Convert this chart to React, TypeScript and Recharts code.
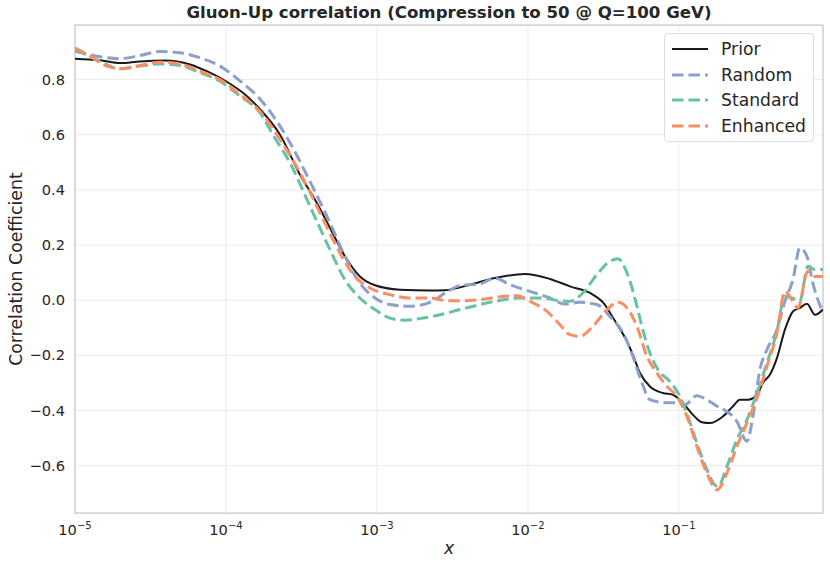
import React from 'react';
import {
  LineChart, Line, XAxis, YAxis, CartesianGrid, Legend, ReferenceArea,
} from 'recharts';

// each point: [log10(x), correlation]
const PRIOR: [number, number][] = [
  [-5.0, 0.876], [-4.834, 0.87], [-4.702, 0.86], [-4.57, 0.866], [-4.404, 0.869], [-4.238, 0.855],
  [-4.106, 0.825], [-4.0, 0.794], [-3.874, 0.746], [-3.775, 0.693], [-3.642, 0.6], [-3.51, 0.455],
  [-3.411, 0.365], [-3.311, 0.262], [-3.212, 0.159], [-3.113, 0.086], [-3.013, 0.054], [-2.848, 0.038],
  [-2.649, 0.035], [-2.55, 0.036], [-2.384, 0.056], [-2.219, 0.08], [-2.02, 0.095], [-1.854, 0.077],
  [-1.722, 0.05], [-1.589, 0.026], [-1.503, -0.008], [-1.424, -0.075], [-1.344, -0.15], [-1.305, -0.198],
  [-1.258, -0.264], [-1.192, -0.313], [-1.106, -0.337], [-1.04, -0.343], [-0.974, -0.373], [-0.907, -0.416],
  [-0.848, -0.443], [-0.795, -0.446], [-0.709, -0.422], [-0.642, -0.385], [-0.596, -0.361], [-0.543, -0.361],
  [-0.483, -0.343], [-0.444, -0.3], [-0.397, -0.27], [-0.351, -0.21], [-0.298, -0.107], [-0.245, -0.041],
  [-0.199, -0.028], [-0.152, -0.013], [-0.099, -0.053], [-0.046, -0.034],
];

const RANDOM: [number, number][] = [
  [-5.0, 0.903], [-4.834, 0.883], [-4.702, 0.876], [-4.57, 0.887], [-4.437, 0.902], [-4.305, 0.897],
  [-4.172, 0.879], [-4.04, 0.849], [-3.907, 0.795], [-3.775, 0.73], [-3.709, 0.685], [-3.576, 0.571],
  [-3.444, 0.431], [-3.311, 0.28], [-3.212, 0.159], [-3.113, 0.062], [-3.013, 0.008], [-2.914, -0.016],
  [-2.781, -0.022], [-2.649, -0.008], [-2.536, 0.03], [-2.45, 0.053], [-2.318, 0.059], [-2.219, 0.08],
  [-2.119, 0.056], [-1.987, 0.032], [-1.854, 0.008], [-1.755, -0.014], [-1.656, -0.008], [-1.543, -0.016],
  [-1.457, -0.059], [-1.358, -0.131], [-1.305, -0.204], [-1.245, -0.3], [-1.192, -0.361], [-1.106, -0.371],
  [-1.013, -0.373], [-0.96, -0.379], [-0.881, -0.347], [-0.815, -0.361], [-0.748, -0.385], [-0.682, -0.404],
  [-0.616, -0.44], [-0.55, -0.512], [-0.51, -0.422], [-0.464, -0.252], [-0.417, -0.18], [-0.351, -0.107],
  [-0.298, -0.004], [-0.245, 0.074], [-0.199, 0.189], [-0.152, 0.159], [-0.113, 0.062], [-0.046, -0.045],
];

const STANDARD: [number, number][] = [
  [-5.0, 0.91], [-4.834, 0.867], [-4.702, 0.839], [-4.57, 0.849], [-4.437, 0.857], [-4.305, 0.851],
  [-4.172, 0.825], [-4.04, 0.794], [-3.907, 0.74], [-3.775, 0.68], [-3.689, 0.6], [-3.576, 0.498],
  [-3.444, 0.341], [-3.311, 0.183], [-3.212, 0.074], [-3.113, 0.008], [-3.013, -0.034], [-2.914, -0.065],
  [-2.815, -0.073], [-2.695, -0.065], [-2.583, -0.053], [-2.45, -0.034], [-2.318, -0.016], [-2.185, -0.001],
  [-2.053, 0.008], [-1.921, 0.008], [-1.788, -0.002], [-1.722, -0.004], [-1.636, 0.026], [-1.543, 0.093],
  [-1.457, 0.141], [-1.404, 0.15], [-1.344, 0.099], [-1.278, -0.022], [-1.245, -0.095], [-1.192, -0.192],
  [-1.139, -0.252], [-1.06, -0.295], [-0.993, -0.349], [-0.94, -0.422], [-0.881, -0.518], [-0.815, -0.615],
  [-0.762, -0.67], [-0.742, -0.676], [-0.682, -0.603], [-0.616, -0.506], [-0.55, -0.434], [-0.483, -0.337],
  [-0.417, -0.228], [-0.351, -0.113], [-0.298, 0.014], [-0.252, 0.008], [-0.199, -0.004], [-0.146, 0.123],
  [-0.099, 0.111], [-0.046, 0.111],
];

const ENHANCED: [number, number][] = [
  [-5.0, 0.915], [-4.901, 0.885], [-4.815, 0.855], [-4.702, 0.839], [-4.57, 0.851], [-4.437, 0.863],
  [-4.305, 0.857], [-4.172, 0.83], [-4.04, 0.8], [-3.907, 0.746], [-3.775, 0.685], [-3.642, 0.583],
  [-3.51, 0.462], [-3.377, 0.317], [-3.245, 0.171], [-3.146, 0.086], [-3.046, 0.044], [-2.914, 0.02],
  [-2.781, 0.008], [-2.649, 0.008], [-2.536, -0.002], [-2.45, -0.002], [-2.318, 0.002], [-2.185, 0.012],
  [-2.073, 0.016], [-1.987, -0.004], [-1.874, -0.041], [-1.788, -0.089], [-1.722, -0.125], [-1.656, -0.131],
  [-1.57, -0.095], [-1.477, -0.035], [-1.404, -0.008], [-1.344, -0.028], [-1.278, -0.095], [-1.212, -0.204],
  [-1.146, -0.264], [-1.079, -0.313], [-1.013, -0.349], [-0.947, -0.422], [-0.881, -0.531], [-0.815, -0.627],
  [-0.748, -0.688], [-0.682, -0.627], [-0.616, -0.531], [-0.55, -0.446], [-0.483, -0.355], [-0.417, -0.24],
  [-0.351, -0.119], [-0.298, 0.032], [-0.252, 0.002], [-0.212, -0.028], [-0.146, 0.105], [-0.099, 0.086],
  [-0.046, 0.086],
];

const X_TICKS = [1e-5, 1e-4, 1e-3, 1e-2, 1e-1];
const Y_TICKS = [-0.6, -0.4, -0.2, 0, 0.2, 0.4, 0.6, 0.8];
const X_DOMAIN: [number, number] = [1e-5, 0.9];
const Y_DOMAIN: [number, number] = [-0.772, 0.998];

const FONT = "'DejaVu Sans', sans-serif";
const INK = '#262626';

const SERIES = [
  { name: 'Prior', points: PRIOR, color: '#1a1a1a', width: 2, dash: undefined },
  { name: 'Random', points: RANDOM, color: '#8da0cb', width: 3, dash: '11.5 5' },
  { name: 'Standard', points: STANDARD, color: '#66c2a5', width: 3, dash: '11.5 5' },
  { name: 'Enhanced', points: ENHANCED, color: '#fc8d62', width: 3, dash: '11.5 5' },
];

const toRows = (pts: [number, number][]) => pts.map(([e, r]) => ({ x: Math.pow(10, e), r }));

const XTick = ({ x, y, payload }: any) => {
  const exp = Math.round(Math.log10(payload.value));
  return (
    <text x={x} y={y + 14} textAnchor="middle" fill={INK} fontSize={14.6} fontFamily={FONT}>
      <tspan>10</tspan>
      <tspan dy={-6} fontSize={10}>{'\u2212' + Math.abs(exp)}</tspan>
    </text>
  );
};

const fmtY = (v: number) => v.toFixed(1).replace('-', '\u2212');

const LegendBox = () => (
  <div
    style={{
      width: 150, height: 109, boxSizing: 'border-box', border: '1px solid #dedede', borderRadius: 4,
      background: 'rgba(255,255,255,0.85)', position: 'relative', fontFamily: FONT, fontSize: 17.2, color: INK,
    }}
  >
    {SERIES.map((s, i) => (
      <div key={s.name} style={{ position: 'absolute', left: 0, top: 3 + i * 25.7, height: 24, width: 150 }}>
        <svg width={50} height={24} style={{ position: 'absolute', left: 0, top: 0 }}>
          <line x1={7} x2={43} y1={12} y2={12} stroke={s.color} strokeWidth={s.width} strokeDasharray={s.dash} />
        </svg>
        <span style={{ position: 'absolute', left: 56, top: 1, lineHeight: '22px' }}>{s.name}</span>
      </div>
    ))}
  </div>
);

export default function App() {
  return (
    <div style={{ position: 'absolute', left: 0, top: 0, width: 830, height: 565, background: '#fff' }}>
      <div
        style={{
          position: 'absolute', left: 75, top: 4, width: 748, textAlign: 'center', fontFamily: FONT,
          fontWeight: 'bold', fontSize: 16.6, color: INK, lineHeight: '18px', zIndex: 2,
        }}
      >
        Gluon-Up correlation (Compression to 50 @ Q=100 GeV)
      </div>
      <LineChart width={830} height={565} margin={{ top: 25, right: 7, bottom: 0, left: 0 }}>
        <CartesianGrid stroke="#ebebeb" strokeWidth={1} />
        <XAxis
          type="number"
          dataKey="x"
          scale="log"
          domain={X_DOMAIN}
          ticks={X_TICKS}
          allowDataOverflow
          height={52}
          axisLine={false}
          tickLine={false}
          tick={<XTick />}
          label={(props: any) => {
            const vb = props.viewBox;
            return (
              <text x={vb.x + vb.width / 2} y={554} textAnchor="middle" fill={INK} fontSize={17.2}
                fontStyle="italic" fontFamily={FONT}>x</text>
            );
          }}
        />
        <YAxis
          type="number"
          domain={Y_DOMAIN}
          ticks={Y_TICKS}
          allowDataOverflow
          width={75}
          axisLine={false}
          tickLine={false}
          tickMargin={4}
          tickFormatter={fmtY}
          tick={{ fill: INK, fontSize: 14.6, fontFamily: FONT }}
          label={(props: any) => {
            const vb = props.viewBox;
            const cy = vb.y + vb.height / 2;
            return (
              <text x={22} y={cy} transform={`rotate(-90 22 ${cy})`} textAnchor="middle" fill={INK}
                fontSize={17.3} fontFamily={FONT}>Correlation Coefficient</text>
            );
          }}
        />
        {SERIES.map((s) => (
          <Line
            key={s.name}
            data={toRows(s.points)}
            dataKey="r"
            name={s.name}
            type="monotone"
            stroke={s.color}
            strokeWidth={s.width}
            strokeDasharray={s.dash}
            dot={false}
            activeDot={false}
            isAnimationActive={false}
          />
        ))}
        <ReferenceArea
          x1={X_DOMAIN[0]} x2={X_DOMAIN[1]} y1={Y_DOMAIN[0]} y2={Y_DOMAIN[1]}
          fill="none" stroke="#cccccc" strokeWidth={1.25} fillOpacity={0}
        />
        <Legend
          layout="vertical"
          align="center"
          verticalAlign="middle"
          content={() => <LegendBox />}
          wrapperStyle={{ top: 33, left: 664, width: 150, height: 109 }}
        />
      </LineChart>
    </div>
  );
}
